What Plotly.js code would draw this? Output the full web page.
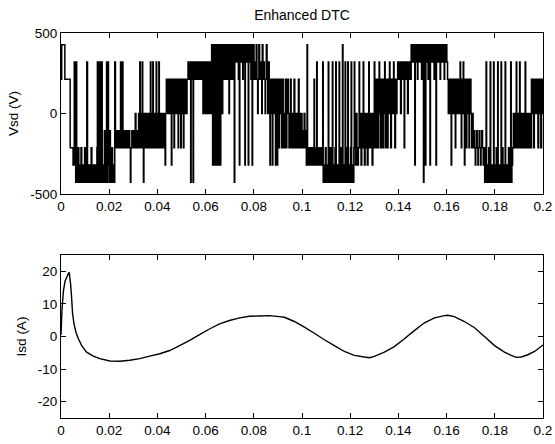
<!DOCTYPE html>
<html>
<head>
<meta charset="utf-8">
<script src="https://cdn.plot.ly/plotly-3.0.1.min.js"></script>
<style>html,body{margin:0;padding:0;background:#fff;}#chart{width:555px;height:444px;}</style>
</head>
<body>
<div id="chart"></div>
<script>
// ---- Vsd switching waveform: time of each switching instant (s) and the level after it (V)
const vsdT = [
0,0.0003,0.0016,0.0038,0.0050,
0.0055,0.0058,0.0061,0.0063,0.0065,0.0068,0.0071,0.0074,0.0077,0.0080,0.0083,0.0086,0.0089,0.0092,0.0095,0.0098,0.0101,0.0104,0.0107,0.0110,0.0113,0.0116,0.0119,0.0122,0.0125,0.0128,0.0131,0.0134,0.0137,0.0140,0.0143,0.0146,0.0149,0.0151,0.0153,0.0155,0.0157,0.0159,0.0161,0.0163,0.0165,0.0167,0.0169,0.0171,0.0174,0.0177,0.0180,0.0182,0.0184,0.0187,0.0189,0.0191,0.0193,0.0195,0.0197,0.0200,0.0203,0.0205,0.0208,0.0211,0.0214,0.0217,0.0220,0.0223,
0.0226,0.0229,0.0232,0.0235,0.0238,0.0241,0.0244,0.0247,0.0249,0.0252,0.0255,0.0257,0.0261,0.0264,0.0268,0.0271,0.0275,0.0278,0.0282,0.0285,0.0288,0.0290,0.0294,0.0297,0.0301,0.0304,0.0308,0.0311,0.0315,0.0318,0.0322,0.0325,0.0327,0.0329,
0.0332,0.0335,0.0337,0.0339,0.0342,0.0344,0.0347,0.0350,0.0353,0.0356,0.0359,0.0362,0.0365,0.0368,0.0371,0.0373,0.0376,0.0379,0.0381,0.0383,0.0386,0.0389,0.0392,0.0395,0.0397,0.0400,0.0403,0.0406,0.0408,0.0411,0.0414,0.0417,0.0420,0.0423,0.0426,0.0429,0.0432,0.0434,0.0437,0.0440,
0.0443,0.0446,0.0449,0.0452,0.0455,0.0458,0.0460,0.0463,0.0466,0.0469,0.0471,0.0474,0.0477,0.0480,0.0483,0.0486,0.0488,0.0491,0.0494,0.0497,0.0499,0.0502,0.0505,0.0508,0.0510,0.0513,0.0516,0.0520,0.0523,0.0527,
0.0530,0.0533,0.0536,0.0538,0.0540,0.0543,0.0546,0.0548,0.0550,0.0553,0.0556,0.0559,0.0562,0.0565,0.0568,0.0571,0.0574,0.0577,0.0580,0.0583,0.0586,0.0589,0.0592,0.0595,0.0598,0.0601,0.0604,0.0607,0.0610,0.0613,0.0616,0.0619,0.0622,0.0625,
0.0627,0.0629,0.0631,0.0633,0.0635,0.0637,0.0639,0.0641,0.0643,0.0645,0.0647,0.0649,0.0651,0.0653,0.0655,0.0657,0.0659,0.0661,0.0663,
0.0665,0.0667,0.0669,0.0671,0.0673,0.0675,0.0677,0.0679,0.0681,0.0683,0.0685,0.0687,0.0689,0.0691,0.0693,0.0695,0.0697,0.0699,0.0701,0.0703,0.0705,0.0707,0.0709,0.0711,0.0713,0.0715,0.0717,0.0719,0.0721,
0.0724,0.0727,0.0730,0.0733,0.0736,0.0738,0.0740,0.0742,0.0745,0.0748,0.0751,0.0754,0.0756,0.0759,0.0761,0.0763,0.0765,0.0768,0.0771,0.0774,0.0777,0.0779,0.0782,0.0785,0.0788,0.0790,0.0793,0.0795,
0.0798,0.0801,0.0804,0.0807,0.0810,0.0813,0.0816,0.0818,0.0821,0.0824,0.0827,0.0830,0.0833,0.0835,0.0838,0.0841,0.0844,0.0847,0.0849,0.0852,0.0855,0.0858,0.0861,0.0864,0.0867,0.0869,
0.0872,0.0875,0.0877,0.0879,0.0882,0.0885,0.0888,0.0890,0.0892,0.0895,0.0897,0.0899,0.0902,0.0905,0.0907,0.0910,0.0913,0.0916,0.0919,0.0922,0.0925,0.0928,0.0931,0.0934,0.0937,0.0940,0.0943,0.0946,0.0949,0.0952,0.0955,0.0958,0.0961,0.0964,0.0967,0.0970,0.0973,0.0976,0.0979,0.0982,0.0985,0.0988,0.0991,0.0994,0.0997,0.1000,
0.1003,0.1006,0.1009,0.1012,0.1015,0.1018,0.1021,0.1023,0.1026,0.1029,0.1032,0.1035,0.1038,0.1041,0.1044,0.1047,0.1050,0.1052,0.1055,0.1058,0.1061,0.1063,0.1066,0.1069,0.1072,0.1075,0.1078,0.1081,0.1084,0.1086,
0.1088,0.1091,0.1094,0.1097,0.1100,0.1103,0.1106,0.1109,0.1111,0.1114,0.1117,0.1120,0.1123,0.1126,0.1128,0.1131,0.1134,0.1137,0.1140,0.1142,0.1145,0.1148,0.1151,0.1154,0.1156,0.1159,0.1162,0.1165,0.1168,0.1170,0.1173,0.1176,0.1179,0.1181,0.1184,0.1187,0.1190,0.1192,0.1195,0.1198,0.1201,0.1204,0.1206,0.1209,0.1212,0.1215,0.1217,
0.1219,0.1222,0.1225,0.1228,0.1231,0.1234,0.1237,0.1239,0.1242,0.1245,0.1248,0.1251,0.1254,0.1256,0.1259,0.1262,0.1265,0.1268,0.1271,0.1274,0.1277,0.1279,0.1282,0.1285,0.1288,0.1291,0.1294,0.1297,0.1300,
0.1302,0.1305,0.1308,0.1311,0.1314,0.1317,0.1320,0.1322,0.1325,0.1328,0.1331,0.1334,0.1337,0.1340,0.1343,0.1345,0.1348,0.1351,0.1354,0.1357,0.1360,0.1363,0.1365,0.1368,0.1371,0.1374,0.1377,0.1380,0.1382,0.1385,0.1388,0.1391,0.1394,0.1397,
0.1400,0.1403,0.1406,0.1409,0.1412,0.1415,0.1418,0.1421,0.1424,0.1426,0.1429,0.1432,0.1435,0.1438,0.1441,0.1444,0.1447,0.1450,0.1453,
0.1456,0.1459,0.1462,0.1465,0.1468,0.1470,0.1473,0.1476,0.1479,0.1481,0.1484,0.1487,0.1490,0.1493,0.1496,0.1498,0.1501,0.1504,0.1506,0.1509,0.1512,0.1514,0.1517,0.1520,0.1523,0.1525,0.1528,0.1531,0.1533,0.1536,0.1539,0.1542,0.1545,0.1548,0.1550,0.1553,0.1556,0.1558,0.1561,0.1564,0.1567,0.1570,0.1573,0.1575,0.1578,0.1581,0.1584,0.1587,0.1590,0.1592,0.1595,0.1598,0.1601,0.1604,
0.1607,0.1610,0.1613,0.1616,0.1619,0.1621,0.1624,0.1627,0.1630,0.1633,0.1636,0.1638,0.1641,0.1644,0.1647,0.1650,0.1653,0.1656,0.1658,0.1661,0.1663,0.1666,0.1669,0.1671,0.1674,0.1676,0.1679,0.1682,0.1684,0.1687,0.1690,0.1693,0.1695,0.1698,0.1701,0.1704,0.1707,
0.1710,0.1713,0.1716,0.1719,0.1721,0.1724,0.1727,0.1730,0.1732,0.1735,0.1738,0.1741,0.1743,0.1746,0.1749,0.1752,0.1755,
0.1758,0.1761,0.1764,0.1766,0.1769,0.1772,0.1775,0.1778,0.1781,0.1783,0.1786,0.1789,0.1792,0.1795,0.1797,0.1800,0.1803,0.1806,0.1809,0.1812,0.1814,0.1817,0.1820,0.1823,0.1826,0.1828,0.1831,0.1834,0.1837,0.1840,0.1843,0.1845,0.1848,0.1851,0.1854,0.1857,0.1860,0.1863,0.1866,0.1868,0.1871,0.1874,
0.1877,0.1880,0.1883,0.1886,0.1889,0.1891,0.1894,0.1897,0.1900,0.1903,0.1905,0.1908,0.1911,0.1914,0.1917,0.1920,0.1923,0.1926,0.1928,0.1931,0.1934,0.1937,0.1940,0.1943,0.1946,0.1949,
0.1952,0.1955,0.1958,0.1961,0.1964,0.1967,0.1970,0.1973,0.1976,0.1979,0.1982,0.1985,0.1988,0.1991,0.1994,0.1997,0.2000
];
const vsdV = [
213,427,213,-213,-320,
320,-320,-427,320,-427,-320,-213,-427,-320,-427,-213,-320,-427,-320,-427,-213,-427,-320,320,-427,-320,-427,-320,-427,-213,-427,-320,-427,-320,-427,-320,-427,-213,320,-320,-427,320,-427,-320,320,-427,-213,320,-427,-320,-427,-107,-320,-427,-107,320,-427,-213,320,-320,-427,-107,-320,-427,-213,-427,-320,-427,320,
-213,-107,-213,-107,-213,-107,-213,320,-213,-107,320,-213,-107,-213,-107,-213,-107,-213,-107,-213,-427,-213,-107,-213,-107,-213,0,-213,-107,-213,0,-213,320,-213,
0,-213,320,0,-427,-213,0,-213,0,-213,0,-213,0,-213,320,-213,0,-213,320,0,-213,0,-213,320,-213,0,-213,320,0,-213,0,-213,0,-213,0,-213,-320,0,213,0,
213,0,213,0,213,-320,213,0,213,-213,213,0,213,0,213,-213,213,0,213,-213,213,0,213,-213,213,0,213,0,213,320,
213,320,213,-427,320,213,320,-427,213,320,213,320,213,320,213,320,213,320,213,320,213,0,320,213,0,320,0,213,320,0,213,320,0,427,
320,-320,427,320,-320,427,213,-320,427,320,-320,427,0,427,-320,320,427,-320,427,
213,427,0,427,213,427,320,213,427,213,427,320,427,213,427,320,0,427,213,427,320,427,213,427,320,427,213,-427,427,
320,427,320,427,213,427,-320,320,427,320,427,213,427,320,427,-320,427,320,427,320,-320,427,320,427,213,427,-320,213,
427,213,320,213,427,213,0,213,427,213,320,213,0,427,213,320,213,0,213,427,213,0,320,213,-320,213,
0,213,-320,0,213,0,213,-320,0,213,-320,0,213,-213,0,213,0,-213,213,0,-213,0,213,-213,0,213,0,-213,0,213,-213,0,-213,0,213,-213,0,-213,0,-213,213,-213,0,-213,0,-213,
-107,-213,0,-213,-107,-320,427,-213,-320,-213,-320,-213,-320,-213,-320,-213,213,-320,-213,-320,320,-213,-320,-213,-320,-213,-320,-213,-320,320,
-427,-320,-427,-213,-427,-320,-427,320,-320,-427,-213,-427,-320,320,-427,-320,-427,-213,320,-427,-320,-427,-320,320,-427,-213,-427,-320,427,-427,-320,-427,320,-320,-427,-213,320,-427,-320,-427,-213,320,-427,-320,-427,-213,320,
-213,-320,0,-213,-320,-213,320,0,-213,-320,0,-213,320,-213,-320,0,-213,0,-320,-213,320,0,-213,0,-213,-320,0,-213,320,
0,-213,213,0,-213,213,320,0,-213,213,0,-213,213,0,320,-213,213,0,-213,213,0,320,213,-213,0,213,0,320,213,-213,213,0,213,320,
213,320,213,0,320,213,320,213,-213,320,213,320,213,0,320,213,320,213,427,
320,427,320,427,-320,427,320,427,213,427,320,427,320,427,213,427,320,-427,427,320,-320,427,320,427,213,427,320,-320,427,320,427,320,427,213,427,320,-320,427,320,427,320,427,213,427,320,427,320,427,213,427,320,427,320,213,
0,213,0,213,-320,213,0,213,0,213,-213,213,0,213,0,213,0,320,213,-213,0,213,320,0,-320,213,0,-213,213,0,213,-213,0,213,0,-213,0,
-213,-107,-213,-320,-213,-107,-213,-320,-213,-107,-213,-320,-213,-107,-213,-320,-213,
-427,-320,320,-427,-320,-427,-213,-427,320,-320,-427,-320,-427,320,-427,-320,-427,-213,-427,320,-320,-427,-320,-427,320,-427,-213,-427,-320,-427,320,-320,-427,-320,-427,-213,-427,-320,320,-427,-320,-213,
0,-213,0,-213,320,0,-213,0,-213,320,-213,0,-213,0,-213,0,-213,320,0,-213,0,-213,0,-213,0,-213,
213,0,213,-213,213,0,213,0,213,-213,213,0,213,-213,213,0,0
];

// ---- Isd current (A) read at these times (s)
const isdT = [0,0.0004,0.0010,0.0017,0.0023,0.0030,0.0034,0.0040,0.0044,0.0048,0.0054,0.0062,0.0072,0.0086,0.0106,0.0134,0.0161,0.0203,0.0244,0.0285,0.0327,0.0368,0.0410,0.0451,0.0492,0.0534,0.0575,0.0616,0.0658,0.0699,0.0741,0.0782,0.0823,0.0865,0.0906,
0.0927,0.0968,0.1010,0.1051,0.1093,0.1134,0.1176,0.1217,0.1259,0.1280,0.1300,0.1342,0.1383,0.1425,0.1466,0.1508,0.1550,0.1591,0.1605,0.1632,0.1674,0.1716,0.1757,0.1799,0.1840,0.1868,0.1889,0.1910,0.1937,0.1965,0.2000];
const isdV = [0.5,8,14,17,18,19.2,19.7,16,12,7,3.9,1.3,-0.7,-2.8,-4.8,-6.0,-6.8,-7.5,-7.6,-7.3,-6.8,-6.0,-5.3,-4.3,-2.8,-1.2,0.6,2.3,3.9,4.9,5.7,6.2,6.3,6.4,6.1,
5.9,4.6,2.9,1.0,-1.0,-2.8,-4.6,-5.8,-6.3,-6.5,-6.1,-4.8,-3.1,-0.7,1.8,4.2,5.7,6.4,6.5,6.1,4.6,2.7,0,-2.8,-4.8,-5.8,-6.4,-6.3,-5.6,-4.6,-2.6];

const xTicks = [0,0.02,0.04,0.06,0.08,0.1,0.12,0.14,0.16,0.18,0.2];
const xTickText = ['0','0.02','0.04','0.06','0.08','0.1','0.12','0.14','0.16','0.18','0.2'];
const vTicks = [-500,0,500];
const vTickText = ['-500','0','500'];
const iTicks = [-20,-10,0,10,20];
const iTickText = ['-20','-10','0','10','20'];

const font = {family: 'Liberation Sans, Arial, sans-serif', size: 13.5, color: '#000'};
const titleFont = {family: 'Liberation Sans, Arial, sans-serif', size: 14, color: '#000'};
const axisCommon = {
  showline: true, mirror: 'ticks', linecolor: '#000', linewidth: 1,
  ticks: 'inside', ticklen: 5, tickcolor: '#000', tickwidth: 1,
  showgrid: false, zeroline: false, tickfont: font
};

const traces = [
  {x: vsdT, y: vsdV, type: 'scatter', mode: 'lines', line: {color: '#000', width: 1.5, shape: 'hv', simplify: false}, xaxis: 'x', yaxis: 'y', hoverinfo: 'skip'},
  {x: isdT, y: isdV, type: 'scatter', mode: 'lines', line: {color: '#000', width: 1.4, simplify: false}, xaxis: 'x2', yaxis: 'y2', hoverinfo: 'skip'}
];

const layout = {
  width: 555, height: 444,
  margin: {l: 61, r: 12, t: 33, b: 26},
  paper_bgcolor: '#fff', plot_bgcolor: '#fff',
  showlegend: false,
  font: font,
  title: {text: 'Enhanced DTC', font: titleFont, x: 0.5, xref: 'paper', xanchor: 'center', y: 0.966, yref: 'container', yanchor: 'middle'},
  xaxis: Object.assign({}, axisCommon, {domain: [0, 1], range: [0, 0.2], tickvals: xTicks, ticktext: xTickText, anchor: 'y'}),
  yaxis: Object.assign({}, axisCommon, {domain: [0.5818, 1], range: [-500, 500], tickvals: vTicks, ticktext: vTickText, anchor: 'x',
    title: {text: 'Vsd (V)', font: font, standoff: 8}}),
  xaxis2: Object.assign({}, axisCommon, {domain: [0, 1], range: [0, 0.2], tickvals: xTicks, ticktext: xTickText, anchor: 'y2'}),
  yaxis2: Object.assign({}, axisCommon, {domain: [0, 0.4234], range: [-25, 25], tickvals: iTicks, ticktext: iTickText, anchor: 'x2',
    title: {text: 'Isd (A)', font: font, standoff: 8}})
};

Plotly.newPlot('chart', traces, layout, {staticPlot: true, displayModeBar: false});
</script>
</body>
</html>
